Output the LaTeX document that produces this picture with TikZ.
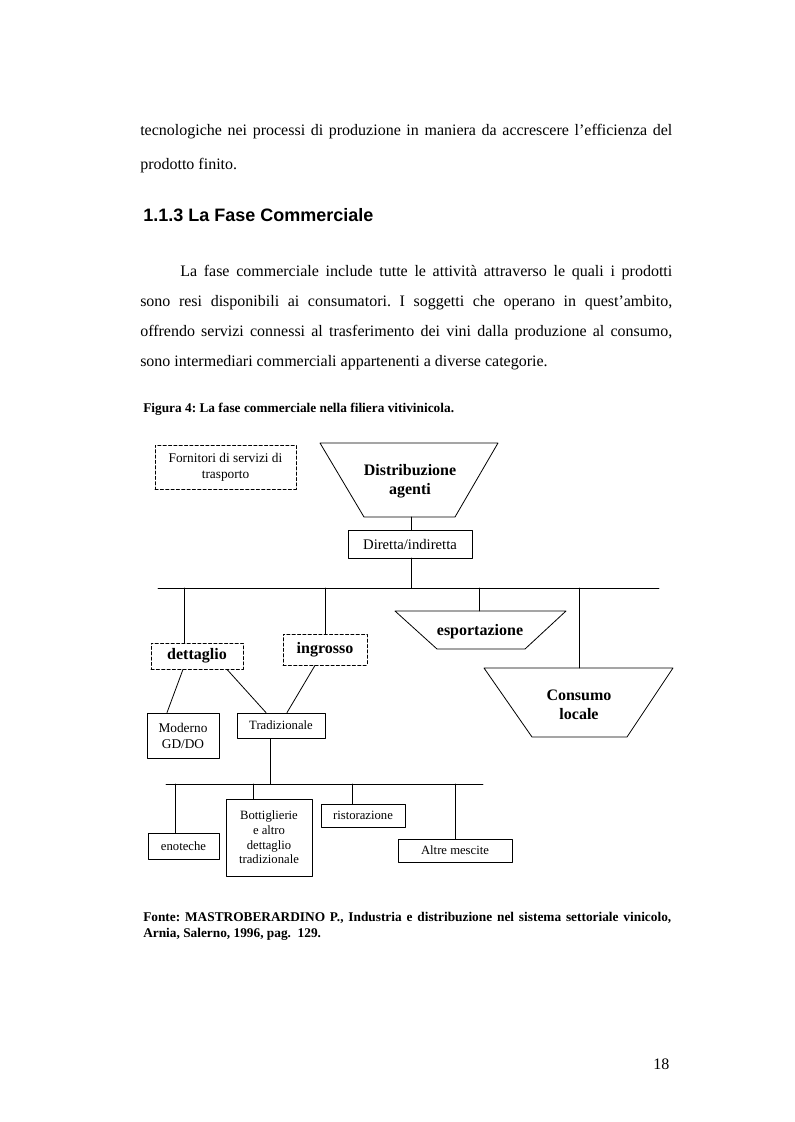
\documentclass[tikz,border=0pt]{standalone}
\usepackage{fontspec}
\setmainfont{Liberation Serif}
\newfontfamily\headfont{Liberation Sans}
\newdimen\px
\px=0.75pt
\frenchspacing
\begin{document}
\begin{tikzpicture}[x=0.75pt, y=-0.75pt, line join=round, line cap=round,
  txt/.style={anchor=base west, inner sep=0pt, font=\fontsize{12}{14}\selectfont},
  box/.style={draw, line width=0.6pt, inner sep=0pt, align=center, font=\fontsize{10}{12}\selectfont},
  dbox/.style={box, dash pattern=on 2.4pt off 1.6pt},
  lbl/.style={inner sep=0pt, align=center, font=\bfseries\fontsize{12}{14}\selectfont},
  small/.style={font=\fontsize{9.5}{11}\selectfont},
  link/.style={line width=0.6pt}]
\useasboundingbox[fill=white] (0,0) rectangle (794,1122);
% testo della pagina
\node[txt] (t1) at (140,135) {\makebox[399pt][s]{tecnologiche nei processi di produzione in maniera da accrescere l’efficienza del}};
\node[txt] (t2) at (140,169) {prodotto finito.};
\node[txt, font=\headfont\bfseries\fontsize{13.5}{15}\selectfont] (sec) at (143,221) {1.1.3 La Fase Commerciale};
\node[txt] (p1) at (180,276) {\makebox[369pt][s]{La fase commerciale include tutte le attività attraverso le quali i prodotti}};
\node[txt] (p2) at (140,306) {\makebox[399pt][s]{sono resi disponibili ai consumatori. I soggetti che operano in quest'ambito,}};
\node[txt] (p3) at (140,336) {\makebox[399pt][s]{offrendo servizi connessi al trasferimento dei vini dalla produzione al consumo,}};
\node[txt] (p4) at (140,366) {sono intermediari commerciali appartenenti a diverse categorie.};
\node[txt, font=\bfseries\fontsize{10}{12}\selectfont] (cap) at (143,412) {Figura 4: La fase commerciale nella filiera vitivinicola.};
% livello superiore
\node[dbox, minimum width=141\px, minimum height=44\px] (forn) at (225.5,467) {Fornitori di servizi di\\trasporto};
\draw[link] (320,443) -- (498,443) -- (455,517) -- (364,517) -- cycle;
\node[lbl] (dist) at (410,481) {Distribuzione\\agenti};
\coordinate (distb) at (411,517);
\node[box, font=\fontsize{11}{13}\selectfont, minimum width=124\px, minimum height=28\px] (dir) at (410,544) {Diretta/indiretta};
\coordinate (dirb) at (411,558);
\coordinate (bus1w) at (158,588);
\coordinate (bus1e) at (659,588);
\draw[link] (distb) -- (distb |- dir.north);
\draw[link] (dirb) -- (dirb |- bus1w);
\draw[link] (bus1w) -- (bus1e);
% canali
\node[dbox, lbl, draw, minimum width=92\px, minimum height=26\px] (dett) at (197,656) {dettaglio};
\node[dbox, lbl, draw, minimum width=84\px, minimum height=31\px] (ingr) at (325,649.5) {ingrosso};
\coordinate (b1a) at (184,588);
\coordinate (b1b) at (325,588);
\draw[link] (b1a) -- (b1a |- dett.north);
\draw[link] (b1b) -- (ingr.north);
\draw[link] (395,611) -- (566,611) -- (525,649) -- (437,649) -- cycle;
\node[lbl] (esp) at (480,632) {esportazione};
\coordinate (b1c) at (479,588);
\coordinate (espt) at (479,611);
\draw[link] (b1c) -- (espt);
\draw[link] (484,668) -- (673,668) -- (627,737) -- (532,737) -- cycle;
\node[lbl] (cons) at (579,705) {Consumo\\locale};
\coordinate (b1d) at (579,588);
\coordinate (const) at (579,668);
\draw[link] (b1d) -- (const);
% dettaglio
\node[box, minimum width=72\px, minimum height=45\px] (mod) at (183,735.5) {Moderno\\GD/DO};
\node[box, small, minimum width=88\px, minimum height=25\px] (trad) at (281,725.5) {Tradizionale};
\draw[link] ([xshift=-14\px]dett.south) -- ([xshift=-16\px]mod.north);
\draw[link] ([xshift=30\px]dett.south) -- ([xshift=-15\px]trad.north);
\draw[link] ([xshift=-10\px]ingr.south) -- ([xshift=6\px]trad.north);
\coordinate (b2t) at (270,784);
\coordinate (bus2w) at (166,784);
\coordinate (bus2e) at (483,784);
\draw[link] (b2t |- trad.south) -- (b2t);
\draw[link] (bus2w) -- (bus2e);
% punti vendita
\node[box, small, minimum width=71\px, minimum height=26\px] (eno) at (183.5,846) {enoteche};
\node[box, small, minimum width=86\px, minimum height=77\px] (bott) at (269,837.5) {Bottiglierie\\e altro\\dettaglio\\tradizionale};
\node[box, small, minimum width=84\px, minimum height=23\px] (rist) at (363,815.5) {ristorazione};
\node[box, small, minimum width=114\px, minimum height=23\px] (altre) at (455,850.5) {Altre mescite};
\coordinate (b2a) at (175,784);
\coordinate (b2b) at (253,784);
\coordinate (b2c) at (352,784);
\coordinate (b2d) at (455,784);
\draw[link] (b2a) -- (b2a |- eno.north);
\draw[link] (b2b) -- (b2b |- bott.north);
\draw[link] (b2c) -- (b2c |- rist.north);
\draw[link] (b2d) -- (altre.north);
% fonte e numero di pagina
\node[txt, font=\bfseries\fontsize{10}{12}\selectfont] (src1) at (143,921) {\makebox[396pt][s]{Fonte: MASTROBERARDINO P., Industria e distribuzione nel sistema settoriale vinicolo,}};
\node[txt, font=\bfseries\fontsize{10}{12}\selectfont] (src2) at (143,937) {Arnia, Salerno, 1996, pag.\ \ 129.};
\node[txt] (pg) at (653,1069) {18};
\end{tikzpicture}
\end{document}
